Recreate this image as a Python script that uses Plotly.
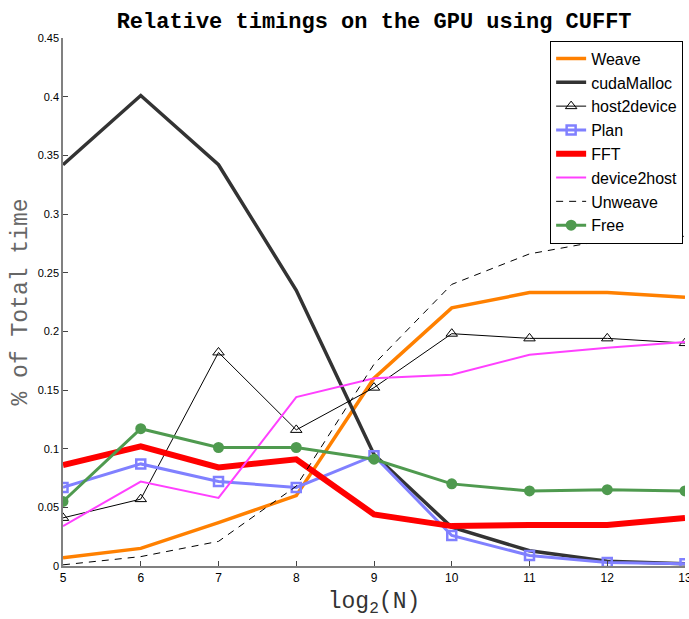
import plotly.graph_objects as go

x = [5, 6, 7, 8, 9, 10, 11, 12, 13]
weave = [0.007, 0.015, 0.037, 0.060, 0.160, 0.220, 0.233, 0.233, 0.229]
cuda_malloc = [0.342, 0.401, 0.342, 0.235, 0.095, 0.033, 0.013, 0.004, 0.002]
host2device = [0.041, 0.057, 0.182, 0.116, 0.152, 0.198, 0.194, 0.194, 0.190]
plan = [0.067, 0.087, 0.072, 0.067, 0.094, 0.026, 0.009, 0.003, 0.002]
fft = [0.086, 0.102, 0.084, 0.091, 0.044, 0.034, 0.035, 0.035, 0.041]
device2host = [0.034, 0.072, 0.058, 0.144, 0.160, 0.163, 0.180, 0.186, 0.191]
unweave = [0.001, 0.008, 0.021, 0.068, 0.172, 0.240, 0.266, 0.278, 0.281]
free = [0.055, 0.117, 0.101, 0.101, 0.091, 0.070, 0.064, 0.065, 0.064]

fig = go.Figure()
fig.add_trace(go.Scatter(x=x, y=weave, name="Weave", mode="lines",
                         line=dict(color="#ff8000", width=3.5)))
fig.add_trace(go.Scatter(x=x, y=cuda_malloc, name="cudaMalloc", mode="lines",
                         line=dict(color="#333333", width=3.5)))
fig.add_trace(go.Scatter(x=x, y=host2device, name="host2device", mode="lines+markers",
                         line=dict(color="black", width=1),
                         marker=dict(symbol="triangle-up-open", size=10, color="black",
                                     line=dict(width=1, color="black"))))
fig.add_trace(go.Scatter(x=x, y=plan, name="Plan", mode="lines+markers",
                         line=dict(color="#8080ff", width=3),
                         marker=dict(symbol="square-open", size=9, color="#8080ff",
                                     line=dict(width=2.5, color="#8080ff"))))
fig.add_trace(go.Scatter(x=x, y=fft, name="FFT", mode="lines",
                         line=dict(color="#ff0000", width=6)))
fig.add_trace(go.Scatter(x=x, y=device2host, name="device2host", mode="lines",
                         line=dict(color="#ff40ff", width=2)))
fig.add_trace(go.Scatter(x=x, y=unweave, name="Unweave", mode="lines",
                         line=dict(color="black", width=1, dash="7px,6px")))
fig.add_trace(go.Scatter(x=x, y=free, name="Free", mode="lines+markers",
                         line=dict(color="#4f9a4f", width=3),
                         marker=dict(symbol="circle", size=11, color="#4f9a4f")))

fig.update_layout(
    width=689, height=619,
    margin=dict(l=63, r=4, t=38, b=53, autoexpand=False),
    plot_bgcolor="white", paper_bgcolor="white",
    title=dict(text="<b>Relative timings on the GPU using CUFFT</b>",
               x=0.543, xanchor="center", y=0.967, yanchor="middle",
               font=dict(family="Liberation Mono", size=22, color="black")),
    xaxis=dict(range=[5, 13], dtick=1, tick0=5, ticks="inside", ticklen=5,
               tickcolor="#444", showgrid=False, zeroline=False,
               showline=True, linecolor="#808080", linewidth=1.5,
               ticklabeloverflow="allow", automargin=False,
               tickfont=dict(family="Liberation Sans", size=12, color="black"),
               title=dict(text="log<sub>2</sub>(N)", standoff=8,
                          font=dict(family="Liberation Mono", size=23, color="#333"))),
    yaxis=dict(range=[0, 0.45], dtick=0.05, ticks="inside", ticklen=5,
               tickcolor="#444", showgrid=False, zeroline=False,
               showline=True, linecolor="#808080", linewidth=1.5,
               automargin=False,
               tickfont=dict(family="Liberation Sans", size=11, color="black"),
               title=dict(text="% of Total time", standoff=4,
                          font=dict(family="Liberation Mono", size=23, color="#666"))),
    legend=dict(x=0.997, y=0.995, xanchor="right", yanchor="top",
                bgcolor="white", bordercolor="black", borderwidth=1,
                font=dict(family="Liberation Sans", size=16, color="black"),
                itemwidth=30, tracegroupgap=0),
    showlegend=True,
)

fig.write_html("out.html")
